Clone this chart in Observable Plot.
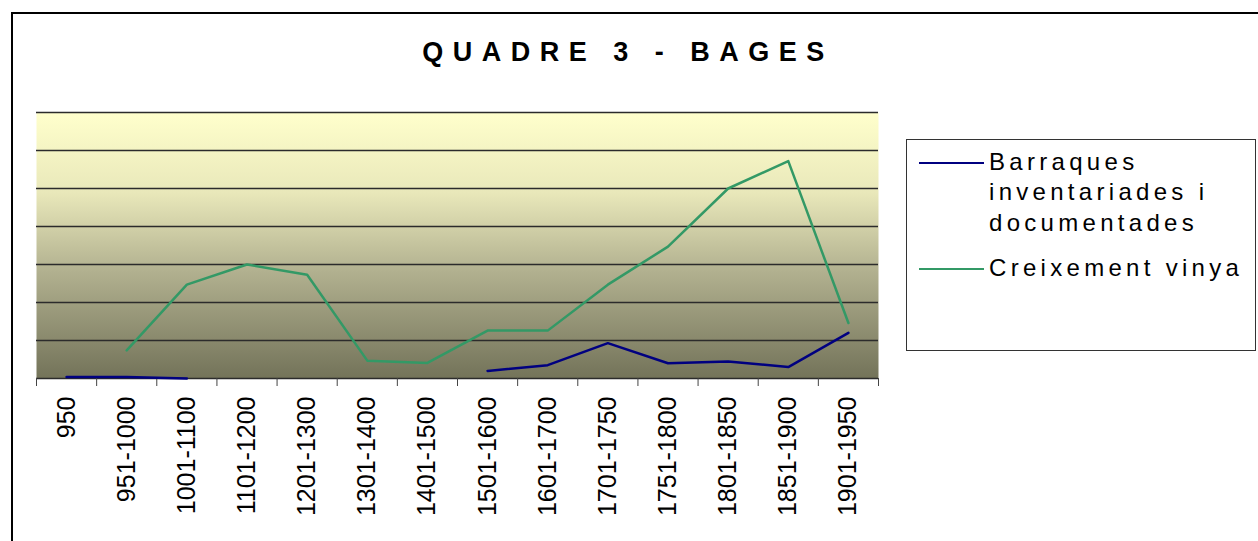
<!DOCTYPE html>
<html><head><meta charset="utf-8">
<script src="https://cdn.jsdelivr.net/npm/d3@7"></script>
<script src="https://cdn.jsdelivr.net/npm/@observablehq/plot@0.6"></script>
<style>
body{margin:0;background:#fff;font-family:"Liberation Sans",Arial,sans-serif;}
#wrap{position:relative;width:1258px;height:541px;overflow:hidden;background:#fff;}
#frame{position:absolute;left:11px;top:12px;width:1300px;height:600px;border-left:2px solid #000;border-top:2px solid #000;}
#chart{position:absolute;left:0;top:0;}
#title{position:absolute;left:0;width:1256px;top:36px;text-align:center;font-weight:bold;font-size:27px;letter-spacing:9.5px;color:#000;line-height:32px;white-space:nowrap;}
#legend{position:absolute;left:906px;top:139px;width:350px;height:212px;border:1.5px solid #333;box-sizing:border-box;}
.lline{position:absolute;height:2px;width:65px;left:12px;}
.ltext{position:absolute;left:82px;font-size:24px;letter-spacing:4.3px;line-height:30px;color:#000;white-space:nowrap;}
</style></head>
<body>
<div id="wrap">
  <div id="frame"></div>
  <div id="chart"></div>
  <div id="title"></div>
  <div id="legend"></div>
</div>
<script>
const title = "QUADRE 3 - BAGES";
const categories = ["950","951-1000","1001-1100","1101-1200","1201-1300","1301-1400","1401-1500","1501-1600","1601-1700","1701-1750","1751-1800","1801-1850","1851-1900","1901-1950"];
const barraques = [0.04,0.04,0.0,null,null,null,null,0.2,0.35,0.93,0.4,0.45,0.3,1.2];
const vinya = [null,0.74,2.47,3.0,2.73,0.47,0.41,1.26,1.26,2.47,3.47,5.0,5.72,1.46];
const yTicks = [0,1,2,3,4,5,6,7];
const seriesNames = ["Barraques inventariades i documentades","Creixement vinya"];
const seriesColors = ["#000080","#339966"];

const n = categories.length;
const idx = d3.range(n);
const rows = idx.map(i => ({
  i: i + 0.5,
  cat: categories[i],
  barraques: barraques[i] == null ? NaN : barraques[i],
  vinya: vinya[i] == null ? NaN : vinya[i]
}));

const chart = Plot.plot({
  width: 1258, height: 541,
  marginLeft: 36, marginRight: 380, marginTop: 112, marginBottom: 163,
  x: {domain: [0, n]},
  y: {domain: [0, 7], axis: null},
  style: {fontFamily: "Liberation Sans, Arial, sans-serif", background: "transparent", color: "#000"},
  marks: [
    Plot.frame({fill: "url(#bgGrad)", stroke: null}),
    Plot.gridY(yTicks, {stroke: "#2b2b2b", strokeOpacity: 1, strokeWidth: 1.5}),
    Plot.axisX(d3.range(n + 1), {tickSize: 8, tickFormat: () => "", stroke: "#444", label: null}),
    Plot.axisX(idx.map(i => i + 0.5), {tickSize: 0, tickPadding: 18, tickRotate: -90,
      tickFormat: d => categories[Math.floor(d)], fontSize: 25, fill: "#000", label: null}),
    Plot.line(rows, {x: "i", y: "vinya", stroke: seriesColors[1], strokeWidth: 2.5}),
    Plot.line(rows, {x: "i", y: "barraques", stroke: seriesColors[0], strokeWidth: 2.5})
  ]
});

const svg = d3.select(chart);
const defs = svg.insert("defs", ":first-child");
const grad = defs.append("linearGradient").attr("id", "bgGrad")
  .attr("x1", 0).attr("y1", 0).attr("x2", 0).attr("y2", 1);
grad.append("stop").attr("offset", "0%").attr("stop-color", "#FFFFCC");
grad.append("stop").attr("offset", "30%").attr("stop-color", "#E9E8BA");
grad.append("stop").attr("offset", "60%").attr("stop-color", "#B1B08F");
grad.append("stop").attr("offset", "100%").attr("stop-color", "#737359");
document.getElementById("chart").appendChild(chart);

document.getElementById("title").textContent = title;

const legend = document.getElementById("legend");
function addLine(color, top) {
  const d = document.createElement("div");
  d.className = "lline"; d.style.background = color; d.style.top = top + "px";
  legend.appendChild(d);
}
function addText(txt, top) {
  const d = document.createElement("div");
  d.className = "ltext"; d.textContent = txt; d.style.top = top + "px";
  legend.appendChild(d);
}
addLine(seriesColors[0], 22);
addText("Barraques", 7);
addText("inventariades i", 37);
addText("documentades", 68);
addLine(seriesColors[1], 128);
addText(seriesNames[1], 113);
</script>
</body></html>
